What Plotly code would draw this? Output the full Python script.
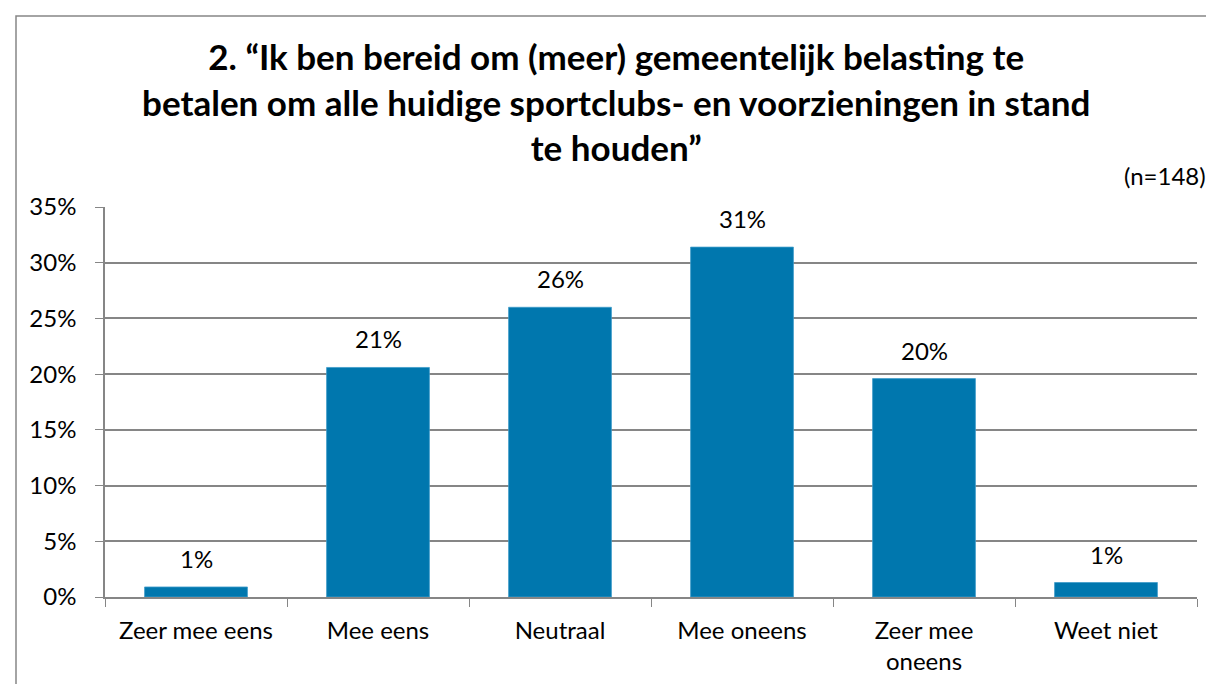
import plotly.graph_objects as go

categories = ["Zeer mee eens", "Mee eens", "Neutraal", "Mee oneens", "Zeer mee<br>oneens", "Weet niet"]
values = [0.9, 20.6, 26.0, 31.4, 19.6, 1.3]
labels = [f"{v:.0f}%" for v in values]
yticks = [0, 5, 10, 15, 20, 25, 30, 35]
ytick_text = [f"{t}%" for t in yticks]

title_text = ("2. “Ik ben bereid om (meer) gemeentelijk belasting te<br>"
              "betalen om alle huidige sportclubs- en voorzieningen in stand<br>"
              "te houden”")

W, H = 1214, 684
L, R, T, B = 97, 1189, 199, 589
FONT = "Lato"
FS = 24

fig = go.Figure()
fig.add_trace(go.Bar(
    x=categories, y=values,
    marker=dict(color="#0077AE", line=dict(color="#3f9cc9", width=0.8)),
    width=0.565,
    hoverinfo="skip",
))
for c, v, t in zip(categories, values, labels):
    fig.add_annotation(x=c, y=v, text=t, showarrow=False, yanchor="bottom",
                       yshift=12, font=dict(family=FONT, size=FS, color="#000000"))

fig.add_annotation(xref="paper", yref="paper", x=(1200 - L) / (R - L), y=(B - 184) / (B - T),
                   text="(n=148)", showarrow=False, xanchor="right", yanchor="bottom",
                   font=dict(family=FONT, size=FS, color="#000000"))

# outer chart border
fig.add_shape(type="rect", xref="paper", yref="paper",
              x0=(8 - L) / (R - L), x1=(1207 - L) / (R - L),
              y0=(B - 700) / (B - T), y1=(B - 8) / (B - T),
              line=dict(color="#868686", width=1.5), layer="below")

fig.update_layout(
    width=W, height=H,
    margin=dict(l=L, r=W - R, t=T, b=H - B, pad=0),
    paper_bgcolor="#ffffff", plot_bgcolor="#ffffff",
    showlegend=False,
    title=dict(text=title_text, x=0.501, xanchor="center", y=1 - 62 / H, yanchor="top",
               font=dict(family=FONT, size=35, color="#000000", weight="bold")),
    xaxis=dict(
        type="category", tickson="boundaries", ticks="outside", ticklen=8, tickcolor="#868686",
        showline=True, linecolor="#868686", linewidth=1.5, showgrid=False,
        tickfont=dict(family=FONT, size=FS, color="#000000"),
        ticklabelstandoff=11,
        fixedrange=True,
    ),
    yaxis=dict(
        range=[0, 35], tickvals=yticks, ticktext=ytick_text,
        ticks="outside", ticklen=8, tickcolor="#868686",
        showline=True, linecolor="#868686", linewidth=1.5,
        showgrid=True, gridcolor="#868686", gridwidth=1.5,
        zeroline=False,
        tickfont=dict(family=FONT, size=FS, color="#000000"),
        ticklabelstandoff=14,
        fixedrange=True,
    ),
)

fig.write_html("out.html")
